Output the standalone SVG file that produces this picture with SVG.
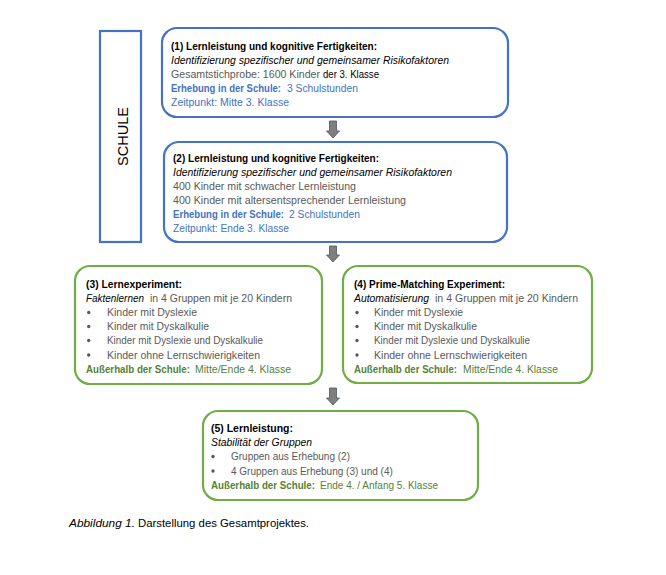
<svg xmlns="http://www.w3.org/2000/svg" width="666" height="575" viewBox="0 0 666 575">
<defs>
<style>
text{font-family:"Liberation Sans",Arial,sans-serif;font-size:10px;}
.b{font-weight:bold;}
.i{font-style:italic;}
.k{fill:#000;}
.g{fill:#595959;}
.bl{fill:#4472C4;}
.gr{fill:#548235;}
.blue{fill:#fff;stroke:#4472C4;stroke-width:2.2;}
.green{fill:#fff;stroke:#70AD47;stroke-width:2.2;}
.arrow{fill:#7F7F7F;stroke:#4d5563;stroke-width:0.8;}
.dot{fill:#595959;}
</style>
</defs>
<rect width="666" height="575" fill="#fff"/>

<g id="schule">
<rect x="100" y="31" width="41" height="211" fill="#fff" stroke="#4472C4" stroke-width="2.2"/>
<text transform="translate(128,136.5) rotate(-90)" text-anchor="middle" style="font-size:14.5px" class="k" textLength="59" lengthAdjust="spacingAndGlyphs">SCHULE</text>
</g>

<g id="connectors">
<path class="arrow" d="M329.5,121 H336.5 V131 H339.5 L333,138 L326.5,131 H329.5 Z"/>
<path class="arrow" d="M329.5,246 H336.5 V255 H339.5 L333,262 L326.5,255 H329.5 Z"/>
<path class="arrow" d="M329.5,388 H336.5 V398 H339.5 L333,405 L326.5,398 H329.5 Z"/>
</g>

<g id="node1">
<rect class="blue" x="162" y="28" width="346" height="89" rx="15"/>
<text x="171" y="49.5" class="b k" textLength="206" lengthAdjust="spacingAndGlyphs">(1) Lernleistung und kognitive Fertigkeiten:</text>
<text x="171" y="63.5" class="i k" textLength="278" lengthAdjust="spacingAndGlyphs">Identifizierung  spezifischer  und  gemeinsamer  Risikofaktoren</text>
<text x="171" y="77.5" class="g" textLength="149" lengthAdjust="spacingAndGlyphs">Gesamtstichprobe:  1600 Kinder</text>
<text x="323" y="77.5" class="k" textLength="56" lengthAdjust="spacingAndGlyphs">der 3. Klasse</text>
<text x="171" y="91.5" class="b bl" textLength="110" lengthAdjust="spacingAndGlyphs">Erhebung in der Schule:</text>
<text x="287" y="91.5" class="bl" textLength="71" lengthAdjust="spacingAndGlyphs">3 Schulstunden</text>
<text x="171" y="105.5" class="bl" textLength="118" lengthAdjust="spacingAndGlyphs">Zeitpunkt:  Mitte 3. Klasse</text>
</g>

<g id="node2">
<rect class="blue" x="164" y="142" width="343" height="100" rx="15"/>
<text x="173" y="161.5" class="b k" textLength="206" lengthAdjust="spacingAndGlyphs">(2) Lernleistung und kognitive Fertigkeiten:</text>
<text x="173" y="175.5" class="i k" textLength="279" lengthAdjust="spacingAndGlyphs">Identifizierung  spezifischer  und  gemeinsamer  Risikofaktoren</text>
<text x="173" y="189.5" class="g" textLength="183" lengthAdjust="spacingAndGlyphs">400 Kinder mit schwacher Lernleistung</text>
<text x="173" y="203.5" class="g" textLength="233" lengthAdjust="spacingAndGlyphs">400 Kinder mit altersentsprechender Lernleistung</text>
<text x="173" y="217.5" class="b bl" textLength="111" lengthAdjust="spacingAndGlyphs">Erhebung in der Schule:</text>
<text x="289" y="217.5" class="bl" textLength="71" lengthAdjust="spacingAndGlyphs">2 Schulstunden</text>
<text x="173" y="231.5" class="bl" textLength="116" lengthAdjust="spacingAndGlyphs">Zeitpunkt:  Ende 3. Klasse</text>
</g>

<g id="node3">
<rect class="green" x="75" y="266" width="247" height="118" rx="15"/>
<text x="86" y="288" class="b k" textLength="96" lengthAdjust="spacingAndGlyphs">(3) Lernexperiment:</text>
<text x="86" y="302" class="i k" textLength="58" lengthAdjust="spacingAndGlyphs">Faktenlernen</text>
<text x="150" y="302" class="g" textLength="142" lengthAdjust="spacingAndGlyphs">in 4 Gruppen mit  je 20 Kindern</text>
<circle class="dot" cx="88.7" cy="312.5" r="1.7"/>
<circle class="dot" cx="88.7" cy="326.5" r="1.7"/>
<circle class="dot" cx="88.7" cy="340.5" r="1.7"/>
<circle class="dot" cx="88.7" cy="355" r="1.7"/>
<text x="107" y="316" class="g" textLength="90" lengthAdjust="spacingAndGlyphs">Kinder mit  Dyslexie</text>
<text x="107" y="330" class="g" textLength="102" lengthAdjust="spacingAndGlyphs">Kinder mit  Dyskalkulie</text>
<text x="107" y="344" class="g" textLength="156" lengthAdjust="spacingAndGlyphs">Kinder mit  Dyslexie und Dyskalkulie</text>
<text x="107" y="358.5" class="g" textLength="153" lengthAdjust="spacingAndGlyphs">Kinder ohne Lernschwierigkeiten</text>
<text x="86" y="372.5" class="b gr" textLength="104" lengthAdjust="spacingAndGlyphs">Außerhalb der Schule:</text>
<text x="195" y="372.5" class="gr" textLength="96" lengthAdjust="spacingAndGlyphs">Mitte/Ende 4. Klasse</text>
</g>

<g id="node4">
<rect class="green" x="343" y="266" width="249" height="117" rx="15"/>
<text x="354" y="288" class="b k" textLength="151" lengthAdjust="spacingAndGlyphs">(4) Prime-Matching  Experiment:</text>
<text x="354" y="302" class="i k" textLength="75" lengthAdjust="spacingAndGlyphs">Automatisierung</text>
<text x="435" y="302" class="g" textLength="143" lengthAdjust="spacingAndGlyphs">in 4 Gruppen mit je 20 Kindern</text>
<circle class="dot" cx="357" cy="312.5" r="1.7"/>
<circle class="dot" cx="357" cy="326.5" r="1.7"/>
<circle class="dot" cx="357" cy="340.5" r="1.7"/>
<circle class="dot" cx="357" cy="355" r="1.7"/>
<text x="374" y="316" class="g" textLength="89" lengthAdjust="spacingAndGlyphs">Kinder mit  Dyslexie</text>
<text x="374" y="330" class="g" textLength="103" lengthAdjust="spacingAndGlyphs">Kinder mit  Dyskalkulie</text>
<text x="374" y="344" class="g" textLength="156" lengthAdjust="spacingAndGlyphs">Kinder mit  Dyslexie und Dyskalkulie</text>
<text x="374" y="358.5" class="g" textLength="153" lengthAdjust="spacingAndGlyphs">Kinder ohne Lernschwierigkeiten</text>
<text x="354" y="372.5" class="b gr" textLength="103" lengthAdjust="spacingAndGlyphs">Außerhalb der Schule:</text>
<text x="463" y="372.5" class="gr" textLength="95" lengthAdjust="spacingAndGlyphs">Mitte/Ende 4. Klasse</text>
</g>

<g id="node5">
<rect class="green" x="203" y="411" width="275" height="89" rx="15"/>
<text x="211" y="431.5" class="b k" textLength="82" lengthAdjust="spacingAndGlyphs">(5) Lernleistung:</text>
<text x="211" y="445.5" class="i k" textLength="101" lengthAdjust="spacingAndGlyphs">Stabilität der Gruppen</text>
<circle class="dot" cx="213" cy="456.5" r="1.7"/>
<circle class="dot" cx="213" cy="471" r="1.7"/>
<text x="231" y="460">
<tspan class="g">Gruppen aus Erhebung (2)</tspan>
</text>
<text x="231" y="474.5" class="g">4 Gruppen aus Erhebung (3) und (4)</text>
<text x="211" y="488.5" class="b gr" textLength="104" lengthAdjust="spacingAndGlyphs">Außerhalb der Schule:</text>
<text x="320" y="488.5" class="gr" textLength="118" lengthAdjust="spacingAndGlyphs">Ende 4. / Anfang 5. Klasse</text>
</g>

<g id="caption">
<text x="69" y="526.5" class="i k" style="font-size:11px" textLength="66" lengthAdjust="spacingAndGlyphs">Abbildung 1.</text>
<text x="138" y="526.5" class="k" style="font-size:11px" textLength="171" lengthAdjust="spacingAndGlyphs">Darstellung des Gesamtprojektes.</text>
</g>
</svg>
